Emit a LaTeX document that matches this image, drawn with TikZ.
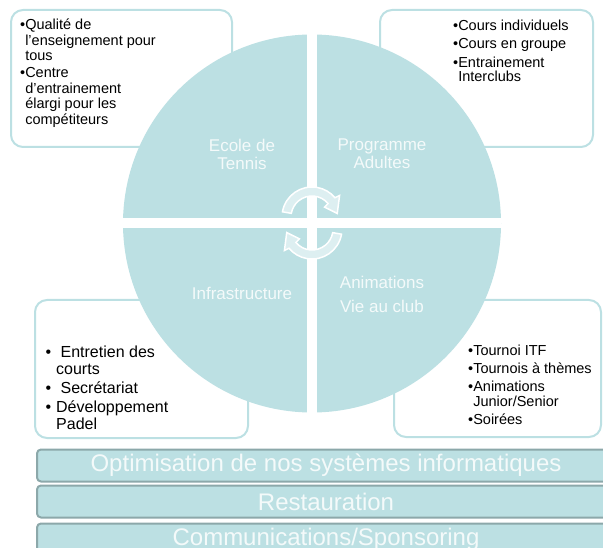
\documentclass[tikz,border=0pt]{standalone}
\usepackage{fontspec}
\setmainfont{Liberation Sans}
\usepackage{tikz}
\usetikzlibrary{positioning}
\definecolor{sky}{RGB}{188,224,227}
\definecolor{barline}{RGB}{140,168,170}
\definecolor{arrowfill}{RGB}{221,239,241}
\definecolor{paletext}{RGB}{244,250,250}
\newcommand{\cont}{\hphantom{•}}
\newcommand{\tabbul}{\makebox[10.5pt][l]{•}}
\newcommand{\tabind}{\hspace*{10.5pt}}

\begin{document}
\begin{tikzpicture}[x=1pt,y=-1pt,
    infobox/.style={draw=sky, line width=2pt, fill=white, rounded corners=12pt, inner sep=0},
    infotext/.style={anchor=north west, inner sep=0, align=left, font=\fontsize{14.5}{15.5}\selectfont},
    quarter/.style={text=paletext, align=center, inner sep=0, font=\fontsize{17}{18}\selectfont},
    band/.style={draw=barline, line width=2pt, fill=sky, rounded corners=4pt, minimum width=578, minimum height=32, inner sep=0, text=paletext, font=\fontsize{24}{24}\selectfont},
    turn/.style={draw=white, line width=1.5pt, fill=arrowfill}]
					\useasboundingbox (0,0) rectangle (603,548);
					\clip (0,0) rectangle (603,548);
					
					\node[infobox, minimum width=221, minimum height=137] (schoolbox) at (121.5,78.5) {};
					\node[infobox, minimum width=213, minimum height=137] (adultbox) at (486.5,78.5) {};
					\node[infobox, minimum width=213, minimum height=138] (infrabox) at (141.5,369) {};
					\node[infobox, minimum width=207, minimum height=137] (eventbox) at (497.5,368.5) {};
					
					\node[circle, fill=sky, minimum size=378, inner sep=0, outer sep=0] (wheel) at (312,223.5) {};
					\draw[white, line width=10pt] (wheel.north) -- (wheel.south);
					\draw[white, line width=10pt] (wheel.west) -- (wheel.east);
					
					\node[quarter] (school) at (242,154) {Ecole de\\Tennis};
					\node[quarter] (adults) at (382,154) {Programme\\Adultes};
					\node[quarter] (infra) at (242,293) {Infrastructure};
					\node[quarter, font=\fontsize{17}{24}\selectfont] (events) at (382,294) {Animations\\Vie au club};
					
					\coordinate (upc) at (312,217);
					\coordinate (lowc) at (312,229);
					\draw[turn] ([shift={(190:30)}]upc) arc[start angle=190, end angle=320, radius=30]
						-- ([shift={(322:35)}]upc) -- ([shift={(352:25.5)}]upc) -- ([shift={(322:16)}]upc)
						-- ([shift={(320:21)}]upc) arc[start angle=320, end angle=190, radius=21] -- cycle;
					\draw[turn] ([shift={(10:30)}]lowc) arc[start angle=10, end angle=140, radius=30]
						-- ([shift={(142:35)}]lowc) -- ([shift={(172:25.5)}]lowc) -- ([shift={(142:16)}]lowc)
						-- ([shift={(140:21)}]lowc) arc[start angle=140, end angle=10, radius=21] -- cycle;
					
					\node[infotext] (schooltext) at (20,19) {•Qualité de\\\cont l’enseignement pour\\\cont tous\\[1.5pt]•Centre\\\cont d’entrainement\\\cont élargi pour les\\\cont compétiteurs};
					\node[infotext, font=\fontsize{14.5}{14.5}\selectfont] (adulttext) at (453,19.5) {•Cours individuels\\[4pt]•Cours en groupe\\[4pt]•Entrainement\\\cont Interclubs};
					\node[infotext, font=\fontsize{16}{17}\selectfont] (infratext) at (45.5,345.5) {\tabbul\ Entretien des\\\tabind courts\\[2pt]\tabbul\ Secrétariat\\[2pt]\tabbul Développement\\\tabind Padel};
					\node[infotext, font=\fontsize{14.5}{14.5}\selectfont] (eventtext) at (468,345) {•Tournoi ITF\\[3.5pt]•Tournois à thèmes\\[3.5pt]•Animations\\\cont Junior/Senior\\[3.5pt]•Soirées};
					
					\node[band] (software) at (326,465.5) {Optimisation de nos systèmes informatiques};
					\node[band] (catering) at (326,501.5) {Restauration};
					\node[band] (sponsors) at (326,539.5) {Communications/Sponsoring};
					\end{tikzpicture}
\end{document}
